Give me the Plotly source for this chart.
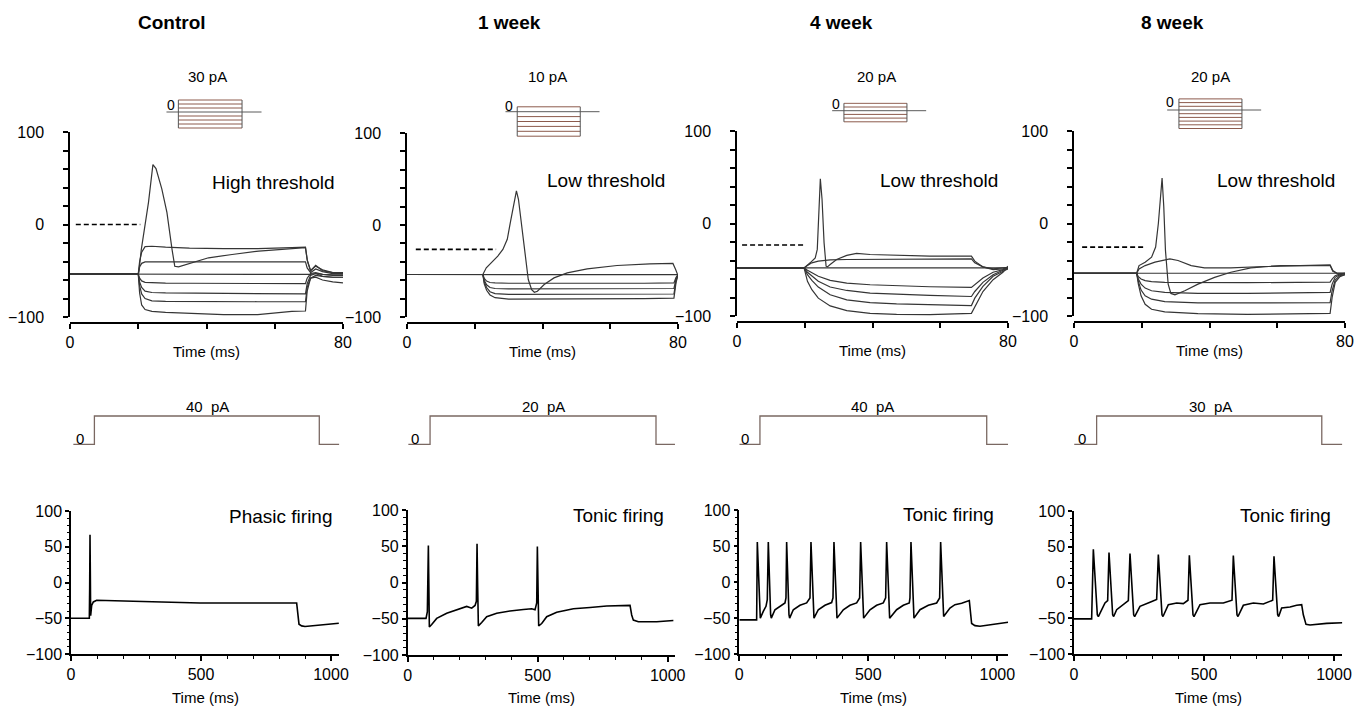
import plotly.graph_objects as go

# the page body adds an 8 px margin; the figure is sized and shifted to compensate
PAGE_W, PAGE_H, BODY = 1366, 708, 8
W, H = PAGE_W - BODY, PAGE_H - BODY
FONT = "Liberation Sans, Arial, sans-serif"

# ---------------- text ----------------
panel_titles = ["Control", "1 week", "4 week", "8 week"]
threshold_labels = ["High threshold", "Low threshold", "Low threshold", "Low threshold"]
firing_labels = ["Phasic firing", "Tonic firing", "Tonic firing", "Tonic firing"]
pulse_step_labels = ["30 pA", "10 pA", "20 pA", "20 pA"]
long_step_labels = ["40\u00a0 pA", "20\u00a0 pA", "40\u00a0 pA", "30\u00a0 pA"]

# ---------------- row 1: short current pulses (t in ms, V in mV) ----------------
ctl_t = [0, 20.0, 20.4, 21.0, 22.0, 24.0, 28.0, 35.0, 45.0, 55.0, 65.0, 69.0, 69.5, 70.5, 72.0, 74.0, 77.0, 80.0]
ctl_v1 = [-53.5, -53.5, -40, -30, -24, -23.5, -24.5, -25.5, -26, -26, -25, -24.5, -38, -50, -45, -49, -52, -52]
ctl_v2 = [-53.5, -53.5, -46, -42, -40.5, -40.5, -40.5, -41, -41, -40.8, -40.5, -40.5, -47, -52, -48, -51, -53, -53]
ctl_v3 = [-53.5, -53.5, -53.5, -53.5, -53.5, -53.5, -53.6, -53.6, -53.6, -53.6, -53.6, -53.6, -53.6, -54, -53, -54, -54.5, -54.5]
ctl_v4 = [-53.5, -53.5, -58, -61, -62.5, -63, -63.3, -63.5, -63.5, -63.8, -64, -64, -58, -53, -52, -54, -55, -55]
ctl_v5 = [-53.5, -53.5, -62, -68, -72, -73.5, -74, -74.3, -74.5, -74.8, -75, -75, -64, -55, -53, -56, -57, -57]
ctl_v6 = [-53.5, -53.5, -66, -75, -80, -82.5, -83, -83.3, -83.5, -83.5, -83.5, -83.5, -68, -58, -57, -60, -62, -63]
ctl_v7 = [-53.5, -53.5, -74, -87, -92, -94, -95, -96, -97.5, -97.5, -94, -93.5, -72, -58, -55, -56, -57, -57]
ctl_sp_t = [0, 20.1, 20.9, 21.8, 23.0, 24.3, 25.2, 26.9, 28.4, 29.9, 30.7, 31.8, 35.7, 40.6, 47.5, 55.3, 69.0, 69.6, 70.5, 72.0, 74.0, 77.0, 80.0]
ctl_sp_v = [-53.5, -53.5, -26.9, -5.1, 24.0, 64.7, 60.4, 38.5, 13.1, -26.9, -45.1, -45.8, -41.5, -36.0, -32.4, -28.7, -25.1, -40, -50, -44, -50, -52, -52]
ctl_thr_t = [1.7, 20.6]
ctl_thr_v = [0, 0]

w1_t = [0, 22.4, 22.8, 23.5, 24.5, 26.0, 30.0, 40.0, 55.0, 70.0, 78.8, 79.4, 80.0]
w1_v0 = [-53.8, -53.8, -53.8, -53.8, -53.8, -53.8, -53.8, -53.9, -53.9, -53.9, -53.9, -53.9, -53.9]
w1_v1 = [-53.8, -53.8, -58, -61, -62.5, -63, -63.3, -63.5, -63.5, -63.3, -63, -57, -54]
w1_v2 = [-53.8, -53.8, -60, -65, -68, -69, -69.5, -69.5, -69.5, -69.3, -69, -59, -54]
w1_v3 = [-53.8, -53.8, -62, -68, -72.5, -74.5, -75.5, -75.5, -75.5, -75, -75, -61, -54]
w1_v4 = [-53.8, -53.8, -64, -71, -76, -79, -80.5, -80.5, -80.5, -80, -79.5, -63, -54]
w1_sp_t = [0, 22.4, 23.4, 24.9, 26.8, 28.3, 29.6, 30.5, 31.5, 32.3, 32.9, 33.9, 34.8, 35.8, 36.8, 37.6, 38.5, 40.5, 43.4, 47.3, 53.2, 62.0, 71.7, 78.5, 79.3, 80.0]
w1_sp_v = [-53.8, -53.8, -46.5, -41.1, -33.8, -26.5, -15.6, 2.5, 24.4, 37.1, 28.0, -1.1, -30.2, -59.3, -70.2, -73.1, -72.0, -64.7, -57.5, -52.0, -47.6, -44.0, -42.2, -41.8, -48.4, -54.9]
w1_thr_t = [2.6, 26.3]
w1_thr_v = [-26.5, -26.5]

w4_t = [0, 19.8, 20.8, 22.1, 24.0, 27.5, 32.4, 39.3, 47.1, 56.9, 69.2, 70.2, 72.6, 75.6, 78.5, 80.0]
w4_v0 = [-48, -48, -48, -48, -48, -48, -48, -48, -48, -48, -48, -48, -48, -48, -48, -48]
w4_vd = [-48, -48, -45.5, -42.5, -40.7, -39.3, -38.9, -38.9, -38.9, -38.9, -38.2, -42.5, -46.9, -49.1, -48.4, -47.3]
w4_v1 = [-48, -48, -50.5, -53.5, -57.1, -61.5, -64.4, -66.2, -67.3, -68.4, -69.1, -66.2, -58.9, -52.7, -49.8, -48.4]
w4_v2 = [-48, -48, -52.7, -57.1, -62.5, -68.7, -72.4, -75.3, -76.7, -77.8, -78.9, -73.5, -63.6, -55.3, -50.5, -48.7]
w4_v3 = [-48, -48, -55.3, -61.5, -68.7, -77.1, -82.5, -85.5, -86.9, -88, -88.7, -80.7, -68, -57.1, -51.6, -49.1]
w4_v4 = [-48, -48, -62.5, -71.6, -80.7, -89.1, -94.2, -97.1, -98.2, -98.5, -97.1, -89.8, -73.5, -60.7, -52.7, -46.2]
w4_sp_t = [0, 19.8, 21.6, 23.1, 23.7, 24.2, 24.6, 25.1, 25.7, 26.3, 26.7, 27.5, 29.4, 32.4, 35.3, 39.3, 47.1, 56.9, 69.2, 70.2, 72.6, 75.6, 78.5, 80.0]
w4_sp_v = [-48, -48, -42.5, -37.1, -28, 8.4, 48.4, 26.5, -20.7, -46.2, -46.9, -44.4, -38.9, -34.5, -32.4, -33.5, -34.5, -35.3, -35.3, -40.7, -46.9, -49.8, -49.1, -47.6]
w4_thr_t = [1.5, 20.4]
w4_thr_v = [-23.3, -23.3]

w8_t = [0, 18.5, 19.0, 19.8, 21.0, 22.9, 26.8, 36.6, 51.2, 65.9, 75.6, 76.2, 77.1, 78.5, 80.0]
w8_v0 = [-53.8, -53.8, -53.8, -53.8, -53.8, -53.8, -53.8, -53.8, -53.8, -53.8, -53.8, -53.8, -53.8, -53.8, -53.8]
w8_v1 = [-53.8, -53.8, -57.5, -60, -61.8, -62.9, -63.6, -64, -64, -63.6, -63.3, -60, -56.4, -54.5, -53.8]
w8_v2 = [-53.8, -53.8, -60, -65.5, -69.8, -72.7, -74.5, -75.6, -75.6, -74.9, -74.5, -65.5, -58.2, -55.3, -54.5]
w8_v3 = [-53.8, -53.8, -62.5, -72, -78.2, -81.8, -84.4, -85.8, -85.8, -85.5, -85.5, -72.7, -61.1, -56.4, -55.3]
w8_v4 = [-53.8, -53.8, -65.5, -78.2, -87.3, -92.7, -95.6, -97.5, -98.2, -97.5, -97.1, -80, -63.6, -57.5, -55.3]
w8_hump_t = [0, 18.5, 19.2, 21.0, 23.9, 26.8, 28.3, 30.7, 34.6, 38.5, 46.3, 56.1, 65.9, 75.6, 76.4, 77.6, 80.0]
w8_hump_v = [-53.8, -53.8, -49.1, -45.5, -41.8, -39.3, -38.2, -40, -45.5, -48, -48, -46.5, -45.5, -44.7, -50.9, -53.8, -53.8]
w8_sp_t = [0, 18.5, 19.2, 21.0, 22.9, 24.1, 24.9, 25.5, 26.0, 26.5, 27.0, 27.8, 28.6, 29.8, 32.7, 36.6, 41.5, 46.3, 52.2, 61.0, 75.6, 76.4, 77.6, 80.0]
w8_sp_v = [-53.8, -53.8, -45.5, -41.8, -36.4, -25.5, 0, 29.1, 49.1, 18.2, -29.1, -65.5, -75.6, -77.1, -72.7, -65.5, -58.2, -52.7, -48, -45.5, -45.5, -51.6, -53.8, -53.8]
w8_thr_t = [2.4, 21.3]
w8_thr_v = [-25.5, -25.5]

# ---------------- row 1 stimulus schematic (pA levels, sweep in % of sweep) ----------------
ctl_pulse_levels = [90, 60, 30, 0, -30, -60, -90, -120]
w1_pulse_levels = [10, 0, -10, -20, -30, -40, -50]
w4_pulse_levels = [40, 20, 0, -20, -40, -60]
w8_pulse_levels = [60, 40, 20, 0, -20, -40, -60, -80, -100]
pulse_sweep = [0, 100]
pulse_on_off = [12.5, 79.5]

# ---------------- row 2: long current step (ms, pA) ----------------
ctl_step_t = [9, 90, 90, 955, 955, 1032]
ctl_step_i = [0, 0, 40, 40, 0, 0]
w1_step_t = [2.5, 86, 86, 955, 955, 1028]
w1_step_i = [0, 0, 20, 20, 0, 0]
w4_step_t = [0, 80, 80, 959, 959, 1042]
w4_step_i = [0, 0, 40, 40, 0, 0]
w8_step_t = [1, 87, 87, 953, 953, 1032]
w8_step_i = [0, 0, 30, 30, 0, 0]

# ---------------- row 3: firing traces (ms, mV) ----------------
ctl_fire_t = [0, 70.5, 71.8, 73.1, 74.4, 75.6, 79.5, 85.9, 98.7, 239.7, 496.2, 867.9, 871.8, 876.9, 887.2, 900, 1030]
ctl_fire_v = [-50, -50, -8, 66.9, 11, -46.3, -32, -27.2, -24.8, -26.3, -28.7, -28.7, -46.3, -58.3, -60.7, -61.6, -56.9]

w1_fire_t = [0, 70.5, 75.6, 78.2, 79.5, 80.8, 83.3, 92.3, 111.5, 150, 188.5, 226.9, 246.2, 259, 264.1, 266.7, 269.2,
             271.8, 284.6, 303.8, 342.3, 393.6, 444.9, 476.9, 489.7, 496.2, 498.7, 501.3, 503.8, 515.4, 534.6, 573.1,
             637.2, 701.3, 765.4, 855.1, 861.5, 867.9, 887.2, 957.7, 1021.8]
w1_fire_v = [-49.5, -49.5, -40.1, 11.8, 50.9, 11.8, -61.3, -58, -49.5, -42.5, -37.7, -33, -35.4, -31.6, -25.9, 53.3, -7.1,
             -59.9, -55.2, -47.2, -42.5, -39.2, -37.3, -36.3, -37.7, -28.3, 49.5, -7.1, -59.9, -56.6, -47.2, -41,
             -36.3, -34.4, -32.5, -31.6, -44.8, -51.9, -54.2, -54.2, -52.4]

w4_fire_t = [0, 67.2, 69.8, 78.8, 81.4, 93, 103.4, 108.5, 112.4, 121.4, 124, 138.2, 157.6, 177, 180.9, 183.5, 192.5,
             195.1, 209.3, 235.1, 261, 273.9, 277.8, 286.8, 289.4, 306.2, 332, 357.9, 363.1, 366.9, 376, 378.6, 403.1,
             428.9, 454.8, 466.4, 470.3, 479.3, 481.9, 506.5, 532.3, 558.1, 567.2, 571.1, 580.1, 582.7, 609.8, 635.7,
             658.9, 661.5, 665.4, 674.4, 677, 700.3, 732.6, 764.9, 776.5, 780.4, 789.4, 792, 816.5, 835.9, 861.8,
             881.1, 891.5, 900.5, 913.4, 932.8, 997.4, 1042]
w4_fire_v = [-52.6, -52.6, 55.4, -45.5, -50.2, -40.8, -33.8, -24.4, 55.4, -45.5, -50.2, -38.5, -33.8, -29.1, -22.1, 55.4,
             -45.5, -50.2, -38.5, -32.4, -29.1, -22.1, 55.4, -45.5, -50.2, -38.5, -32.4, -28.6, -22.1, 55.4, -45.5,
             -50.2, -38.5, -32.4, -29.1, -22.1, 55.4, -45.5, -50.2, -38.5, -32.4, -29.1, -22.1, 55.4, -45.5, -50.2,
             -38.5, -32.4, -29.1, -22.1, 55.4, -45.5, -50.2, -38.5, -32.4, -29.1, -22.1, 55.4, -45.5, -47.9, -36.2,
             -31.5, -29.6, -26.8, -25.8, -57.7, -60.6, -61.5, -57.7, -55.9]

w8_fire_t = [0, 67.9, 74.4, 89.7, 93.6, 106.4, 119.2, 129.5, 134.6, 148.7, 152.6, 164.1, 189.7, 209, 215.4, 229.5, 233.3,
             253.8, 292.3, 317.9, 324.4, 338.5, 342.3, 362.8, 394.9, 420.5, 438.4, 443.6, 457.7, 461.5, 484.6, 523,
             574.4, 607.7, 612.8, 626.9, 630.7, 651.3, 689.7, 728.2, 764.1, 769.2, 783.3, 787.1, 798.7, 830.8, 856.4,
             875.6, 882, 892.3, 907.7, 971.8, 1032]
w8_fire_v = [-50.9, -50.9, 46.6, -45.2, -47.6, -38.1, -28.6, -25.2, 41.9, -45.2, -47.6, -38.1, -31, -25.2, 40.5, -45.2,
             -47.6, -33.3, -27.6, -23.8, 39, -45.2, -47.6, -31, -28.6, -29.5, -24.8, 38.1, -45.2, -47.6, -31, -28.6,
             -28.6, -24.8, 37.6, -45.2, -47.6, -31.9, -28.6, -30, -24.8, 36.7, -45.2, -47.6, -35.7, -34.3, -31.9,
             -30.9, -45.2, -58.6, -59.5, -57.1, -56.2]

# ---------------- grouping ----------------
row1 = [
    dict(t=ctl_t, vs=[ctl_v1, ctl_v2, ctl_v3, ctl_v4, ctl_v5, ctl_v6, ctl_v7],
         extra=[(ctl_sp_t, ctl_sp_v)], thr=(ctl_thr_t, ctl_thr_v)),
    dict(t=w1_t, vs=[w1_v0, w1_v1, w1_v2, w1_v3, w1_v4],
         extra=[(w1_sp_t, w1_sp_v)], thr=(w1_thr_t, w1_thr_v)),
    dict(t=w4_t, vs=[w4_v0, w4_vd, w4_v1, w4_v2, w4_v3, w4_v4],
         extra=[(w4_sp_t, w4_sp_v)], thr=(w4_thr_t, w4_thr_v)),
    dict(t=w8_t, vs=[w8_v0, w8_v1, w8_v2, w8_v3, w8_v4],
         extra=[(w8_hump_t, w8_hump_v), (w8_sp_t, w8_sp_v)], thr=(w8_thr_t, w8_thr_v)),
]
pulse_levels = [ctl_pulse_levels, w1_pulse_levels, w4_pulse_levels, w8_pulse_levels]
steps = [(ctl_step_t, ctl_step_i), (w1_step_t, w1_step_i), (w4_step_t, w4_step_i), (w8_step_t, w8_step_i)]
fires = [(ctl_fire_t, ctl_fire_v), (w1_fire_t, w1_fire_v), (w4_fire_t, w4_fire_v), (w8_fire_t, w8_fire_v)]

# ---------------- layout geometry (page pixels) ----------------
geo1 = [(70, 343, 132, 317, 323), (407, 678, 133, 317, 323), (737, 1008, 131, 316, 322), (1074, 1345, 131, 316, 322)]
geo_s = [(166, 262, 112, 4.0), (505, 600, 111.7, 4.9), (831.7, 926.7, 110.7, 3.7), (1166.7, 1261.7, 110, 3.7)]
geo3 = [(71, 0.26, 1032, 511, 654), (407.7, 0.26, 1028, 510, 655), (739.3, 0.258, 1042, 510, 654), (1074, 0.26, 1032, 511, 654)]
stim_top, stim_zero = 416, 444.3

title_x = [172, 509, 841, 1172]
thr_lab = [(273, 182), (606, 181), (939, 180), (1276, 180)]
fire_lab = [(281, 517), (618, 515), (948, 514), (1285, 515)]
pulse_lab_x = [207, 547, 877, 1210]
pulse_zero = [(171, 104.5), (509, 106.5), (836, 104), (1170, 102)]
step_lab_x = [207, 543, 873, 1210]
step_zero_x = [80, 415, 745, 1082]

def fx(p):
    return (p - BODY) / W

def fy(p):
    return 1 - (p - BODY) / H

fig = go.Figure()
layout = dict(width=W, height=H, margin=dict(l=0, r=0, t=0, b=0, pad=0, autoexpand=False), showlegend=False,
              plot_bgcolor="white", paper_bgcolor="white", font=dict(family=FONT, color="black"))
annotations = []

def names(n):
    return ("xaxis" if n == 1 else f"xaxis{n}", "yaxis" if n == 1 else f"yaxis{n}",
            "x" if n == 1 else f"x{n}", "y" if n == 1 else f"y{n}")

hidden = dict(visible=False, showgrid=False, zeroline=False, fixedrange=True, automargin=False)
axis_common = dict(showline=True, linecolor="black", linewidth=1.5, ticks="outside", tickcolor="black",
                   tickwidth=1.5, showgrid=False, zeroline=False, fixedrange=True, automargin=False)

def ann(text, x, y, size, xref="paper", bold=False, xanchor="center"):
    annotations.append(dict(text=f"<b>{text}</b>" if bold else text, x=x, y=y, xref=xref, yref="paper",
                            showarrow=False, xanchor=xanchor, yanchor="middle",
                            font=dict(size=size, family=FONT, color="black")))

for i in range(4):
    n1, ns, nst, n3 = 4 * i + 1, 4 * i + 2, 4 * i + 3, 4 * i + 4

    # ---- row 1 main ----
    xa, ya, xr, yr = names(n1)
    x0, x80, y100, ym100, yline = geo1[i]
    layout[xa] = dict(axis_common, domain=[fx(x0), fx(x80)], range=[0, 80], anchor="free", position=fy(yline),
                      tickmode="array", tickvals=[0, 20, 40, 60, 80], ticktext=["0", "", "", "", "80"],
                      ticklen=5, tickfont=dict(size=16))
    layout[ya] = dict(axis_common, domain=[fy(ym100), fy(y100)], range=[-100, 100], anchor=xr,
                      tickmode="linear", tick0=0, dtick=100, ticklen=5, tickfont=dict(size=16),
                      ticklabelstandoff=16,
                      minor=dict(dtick=20, tick0=0, ticks="outside", ticklen=5, tickcolor="black", tickwidth=1.5))
    d = row1[i]
    for v in d["vs"]:
        fig.add_trace(go.Scatter(x=d["t"], y=v, mode="lines", xaxis=xr, yaxis=yr,
                                 line=dict(color="#353535", width=1.2), hoverinfo="skip"))
    for (tt, vv) in d["extra"]:
        fig.add_trace(go.Scatter(x=tt, y=vv, mode="lines", xaxis=xr, yaxis=yr,
                                 line=dict(color="#353535", width=1.2), hoverinfo="skip"))
    fig.add_trace(go.Scatter(x=d["thr"][0], y=d["thr"][1], mode="lines", xaxis=xr, yaxis=yr,
                             line=dict(color="black", width=1.6, dash="5px,3px"), hoverinfo="skip"))
    ann("Time (ms)", 0.5, fy(yline + 28), 15, xref=f"{xr} domain")
    ann(threshold_labels[i], fx(thr_lab[i][0]), fy(thr_lab[i][1]), 19)

    # ---- row 1 schematic ----
    xa, ya, xr, yr = names(ns)
    sl, sr, sz, sp = geo_s[i]
    lv = pulse_levels[i]
    step = abs(lv[0] - lv[1])
    lo, hi = min(lv) - step * 0.3, max(lv) + step * 0.3
    layout[xa] = dict(hidden, domain=[fx(sl), fx(sr)], range=[pulse_sweep[0] - 0.5, pulse_sweep[1] + 0.5], anchor=yr)
    layout[ya] = dict(hidden, domain=[fy(sz - lo / step * sp), fy(sz - hi / step * sp)], range=[lo, hi], anchor=xr)
    for L in lv:
        if L == 0:
            fig.add_trace(go.Scatter(x=pulse_sweep, y=[0, 0], mode="lines", xaxis=xr, yaxis=yr,
                                     line=dict(color="#5a5a5a", width=1), hoverinfo="skip"))
        else:
            fig.add_trace(go.Scatter(x=pulse_on_off, y=[L, L], mode="lines", xaxis=xr, yaxis=yr,
                                     line=dict(color="#8c5a4c", width=1), hoverinfo="skip"))
    for tedge in pulse_on_off:
        fig.add_trace(go.Scatter(x=[tedge, tedge], y=[min(lv), max(lv)], mode="lines", xaxis=xr, yaxis=yr,
                                 line=dict(color="#555555", width=1), hoverinfo="skip"))
    ann(pulse_step_labels[i], fx(pulse_lab_x[i]), fy(76), 15)
    ann("0", fx(pulse_zero[i][0]), fy(pulse_zero[i][1]), 14)

    # ---- row 2 long step ----
    xa, ya, xr, yr = names(nst)
    gx0, ppm, xend, y3t, y3b = geo3[i]
    st, si = steps[i]
    A = max(si)
    lo, hi = -0.08 * A, 1.08 * A
    layout[xa] = dict(hidden, domain=[fx(gx0), fx(gx0 + xend * ppm)], range=[0, xend], anchor=yr)
    layout[ya] = dict(hidden, domain=[fy(stim_zero - lo / A * (stim_zero - stim_top)),
                                      fy(stim_zero - hi / A * (stim_zero - stim_top))], range=[lo, hi], anchor=xr)
    fig.add_trace(go.Scatter(x=st, y=si, mode="lines", xaxis=xr, yaxis=yr,
                             line=dict(color="#7a6862", width=1.3), hoverinfo="skip"))
    ann(long_step_labels[i], fx(step_lab_x[i]), fy(407), 15)
    ann("0", fx(step_zero_x[i]), fy(438), 15)

    # ---- row 3 firing ----
    xa, ya, xr, yr = names(n3)
    layout[xa] = dict(axis_common, domain=[fx(gx0), fx(gx0 + xend * ppm)], range=[0, xend], anchor=yr,
                      tickmode="linear", tick0=0, dtick=500, ticklen=5, tickfont=dict(size=16),
                      minor=dict(dtick=100, tick0=0, ticks="outside", ticklen=3, tickcolor="black", tickwidth=1.2))
    layout[ya] = dict(axis_common, domain=[fy(y3b), fy(y3t)], range=[-100, 100], anchor=xr,
                      tickmode="linear", tick0=0, dtick=50, ticklen=4, tickfont=dict(size=16),
                      minor=dict(dtick=10, tick0=0, ticks="outside", ticklen=2.5, tickcolor="black", tickwidth=1))
    ft, fv = fires[i]
    fig.add_trace(go.Scatter(x=ft, y=fv, mode="lines", xaxis=xr, yaxis=yr,
                             line=dict(color="black", width=1.6), hoverinfo="skip"))
    ann("Time (ms)", 0.5, fy(697), 15, xref=f"{xr} domain")
    ann(firing_labels[i], fx(fire_lab[i][0]), fy(fire_lab[i][1]), 19)

    # ---- panel title ----
    ann(panel_titles[i], fx(title_x[i]), fy(22), 19, bold=True)

layout["annotations"] = annotations
fig.update_layout(**layout)
fig.write_html("out.html")
